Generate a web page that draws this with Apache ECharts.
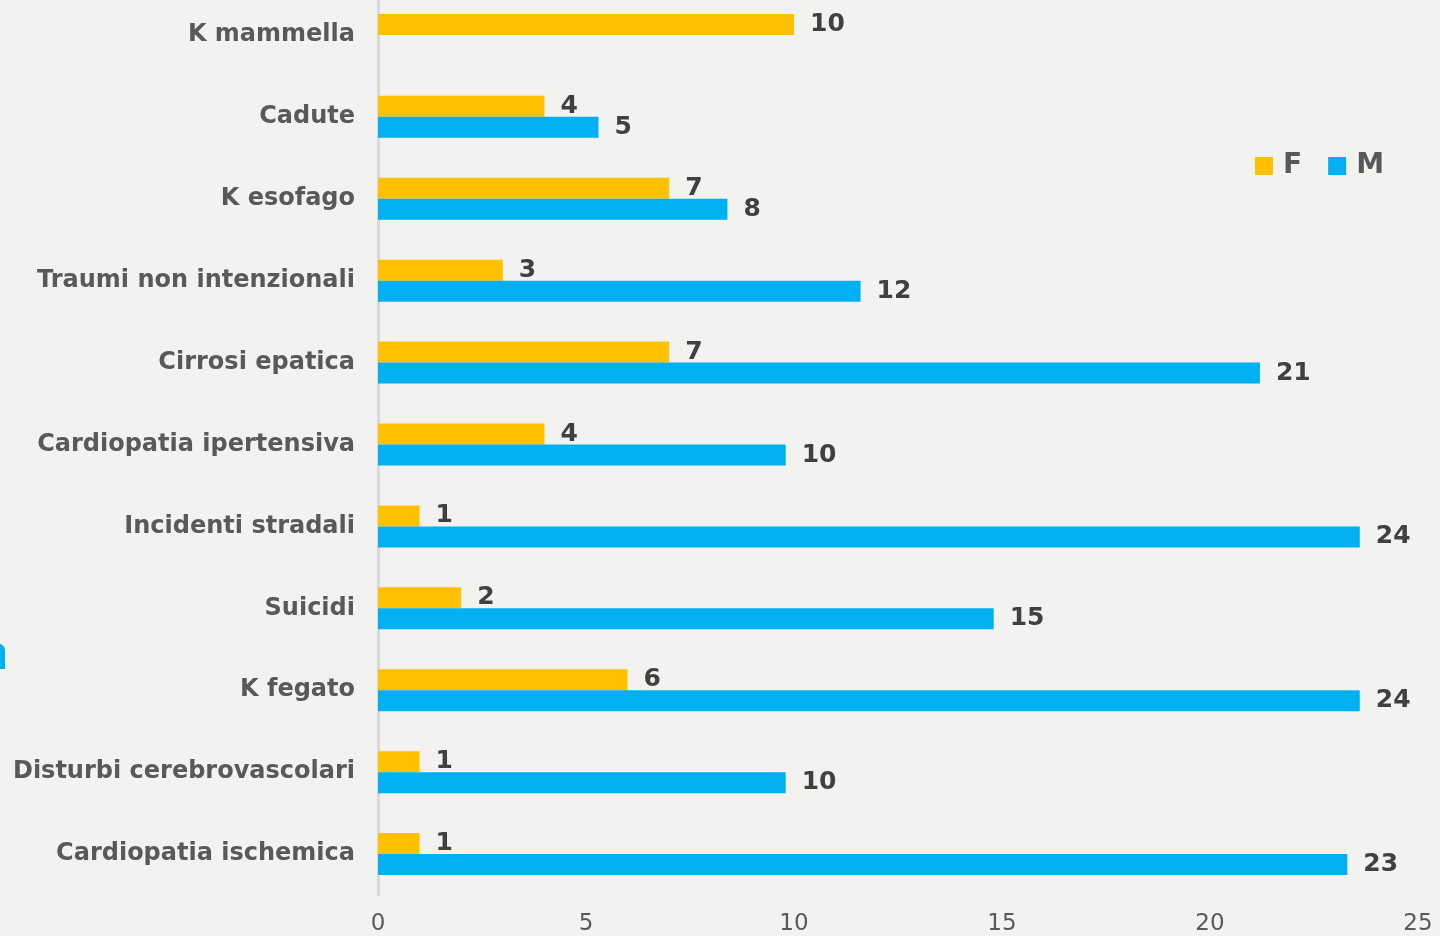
<!DOCTYPE html>
<html>
<head>
<meta charset="utf-8">
<script src="https://cdn.jsdelivr.net/npm/echarts@6/dist/echarts.min.js"></script>
<style>
  html, body { margin: 0; padding: 0; background: #f2f2f0; }
  #chart { width: 1440px; height: 936px; }
</style>
</head>
<body>
<div id="chart"></div>
<script>
// categories bottom -> top (category axis runs upward)
const categories = [
  'Cardiopatia ischemica',
  'Disturbi cerebrovascolari',
  'K fegato',
  'Suicidi',
  'Incidenti stradali',
  'Cardiopatia ipertensiva',
  'Cirrosi epatica',
  'Traumi non intenzionali',
  'K esofago',
  'Cadute',
  'K mammella'
]
const valuesF = [1, 1, 6, 2, 1, 4, 7, 3, 7, 4, 10]
const valuesM = [23.3, 9.8, 23.6, 14.8, 23.6, 9.8, 21.2, 11.6, 8.4, 5.3, null]
const xTicks = [0, 5, 10, 15, 20, 25]

const font = '"DejaVu Sans", Verdana, sans-serif'
const labelStyle = {
  show: true,
  position: 'right',
  distance: 16,
  fontFamily: font,
  fontWeight: 'bold',
  fontSize: 25,
  color: '#404040',
  formatter: p => Math.round(p.value)
}

const chart = echarts.init(document.getElementById('chart'))
chart.setOption({
  backgroundColor: '#f2f2f0',
  animation: false,
  grid: { left: 378, right: 22, top: -6, bottom: 41, containLabel: false, outerBoundsMode: 'none' },
  legend: {
    data: ['F', 'M'],
    left: 1250,
    top: 147,
    itemWidth: 18,
    itemHeight: 18,
    itemGap: 26,
    icon: 'rect',
    textStyle: { fontFamily: font, fontWeight: 'bold', fontSize: 28, color: '#595959', padding: [0, 0, 0, 5] }
  },
  xAxis: {
    type: 'value',
    min: xTicks[0],
    max: xTicks[xTicks.length - 1],
    interval: 5,
    splitLine: { show: false },
    axisLine: { show: false },
    axisTick: { show: false },
    axisLabel: { fontFamily: font, fontSize: 23, color: '#595959', margin: 18 }
  },
  yAxis: {
    type: 'category',
    data: categories,
    axisLine: { show: true, lineStyle: { color: '#d9d9d9', width: 3 } },
    axisTick: { show: false },
    axisLabel: { fontFamily: font, fontWeight: 'bold', fontSize: 24, color: '#595959', margin: 23 }
  },
  series: [
    {
      name: 'F',
      type: 'bar',
      data: valuesF,
      barWidth: 21,
      barGap: 0,
      itemStyle: { color: '#FFC000' },
      label: labelStyle
    },
    {
      name: 'M',
      type: 'bar',
      data: valuesM,
      barWidth: 21,
      barGap: 0,
      itemStyle: { color: '#00B0F0' },
      label: labelStyle
    }
  ],
  graphic: [
    {
      type: 'rect',
      shape: { x: -10, y: 644, width: 15, height: 25, r: [0, 6, 0, 0] },
      style: { fill: '#00B0F0' }
    }
  ]
})
</script>
</body>
</html>
